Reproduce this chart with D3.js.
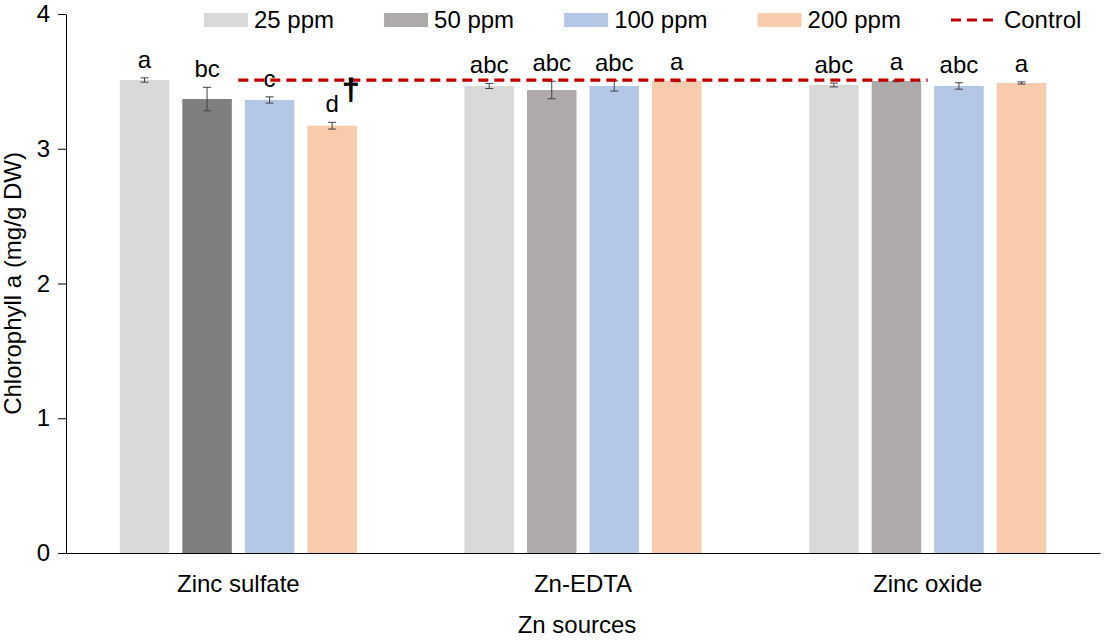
<!DOCTYPE html>
<html>
<head>
<meta charset="utf-8">
<script src="https://cdn.jsdelivr.net/npm/d3@7/dist/d3.min.js"></script>
<style>
  body { margin: 0; background: #fff; }
  text { font-family: Arial, "Liberation Sans", sans-serif; fill: #000; }
</style>
</head>
<body>
<svg id="chart"></svg>
<script>
const categories = ["Zinc sulfate", "Zn-EDTA", "Zinc oxide"];
const series = ["25 ppm", "50 ppm", "100 ppm", "200 ppm"];

const ppm25 = [3.51, 3.466, 3.473];
const ppm50 = [3.369, 3.436, 3.503];
const ppm100 = [3.362, 3.466, 3.466];
const ppm200 = [3.171, 3.503, 3.488];

const err25 = [0.016, 0.019, 0.014];
const err50 = [0.087, 0.065, 0.005];
const err100 = [0.023, 0.038, 0.024];
const err200 = [0.025, 0.005, 0.008];

const let25 = ["a", "abc", "abc"];
const let50 = ["bc", "abc", "a"];
const let100 = ["c", "abc", "abc"];
const let200 = ["d", "a", "a"];

const control = [3.51, 3.51, 3.51];
const yTicks = [0, 1, 2, 3, 4];

const seriesValues = [ppm25, ppm50, ppm100, ppm200];
const seriesErrors = [err25, err50, err100, err200];
const seriesLetters = [let25, let50, let100, let200];
const colors = ["#d9d9d9", "#aeaaaa", "#b4c7e7", "#f8cbad"];
const darkGrey = "#7f7f7f"; // zinc sulfate 50 ppm bar is drawn darker

const W = 1104, H = 640;
const margin = {top: 14, right: 4, bottom: 87, left: 66};
const width = W - margin.left - margin.right;
const height = H - margin.top - margin.bottom;

const svg = d3.select("#chart").attr("width", W).attr("height", H);
svg.append("rect").attr("width", W).attr("height", H).attr("fill", "#fff");

const g = svg.append("g").attr("transform", `translate(${margin.left},${margin.top})`);

const x0 = d3.scaleBand().domain(categories).range([0, width]).padding(0);
const x1 = d3.scaleBand().domain(series).range([0, x0.bandwidth()])
    .paddingInner(0.208).paddingOuter(0.86);
const y = d3.scaleLinear().domain([0, 4]).range([height, 0]);

const rows = [];
categories.forEach((c, ci) => {
    series.forEach((s, si) => {
        rows.push({
            cat: c, ser: s, si: si, ci: ci,
            v: seriesValues[si][ci],
            e: seriesErrors[si][ci],
            l: seriesLetters[si][ci]
        });
    });
});

// bars
g.selectAll(".bar")
    .data(rows)
    .enter().append("rect")
    .attr("class", "bar")
    .attr("x", d => x0(d.cat) + x1(d.ser))
    .attr("y", d => y(d.v))
    .attr("width", x1.bandwidth())
    .attr("height", d => height - y(d.v))
    .attr("fill", d => (d.ci === 0 && d.si === 1) ? darkGrey : colors[d.si]);

// error bars
const eb = g.selectAll(".err")
    .data(rows)
    .enter().append("g")
    .attr("class", "err")
    .attr("stroke", "#404040")
    .attr("stroke-width", 1);
const cx = d => x0(d.cat) + x1(d.ser) + x1.bandwidth() / 2;
eb.append("line")
    .attr("x1", cx).attr("x2", cx)
    .attr("y1", d => y(d.v + d.e)).attr("y2", d => y(d.v - d.e));
eb.append("line")
    .attr("x1", d => cx(d) - 4).attr("x2", d => cx(d) + 4)
    .attr("y1", d => y(d.v + d.e)).attr("y2", d => y(d.v + d.e));
eb.append("line")
    .attr("x1", d => cx(d) - 4).attr("x2", d => cx(d) + 4)
    .attr("y1", d => y(d.v - d.e)).attr("y2", d => y(d.v - d.e));

// significance letters
g.selectAll(".letter")
    .data(rows)
    .enter().append("text")
    .attr("class", "letter")
    .attr("x", cx)
    .attr("y", d => y(d.v + d.e) - 10)
    .attr("text-anchor", "middle")
    .style("font-size", "24px")
    .text(d => d.l);

// control line
const ctrlLine = d3.line()
    .x((d, i) => x0(categories[i]) + x0.bandwidth() / 2)
    .y(d => y(d));
g.append("path")
    .datum(control)
    .attr("d", ctrlLine)
    .attr("fill", "none")
    .attr("stroke", "#c00000")
    .attr("stroke-width", 3.2)
    .attr("stroke-dasharray", "10,6");

// dagger mark next to the zinc sulfate 200 ppm bar
g.append("text")
    .attr("x", x0(categories[0]) + x1("200 ppm") + x1.bandwidth() - 6)
    .attr("y", y(control[0]) + 20)
    .attr("text-anchor", "middle")
    .style("font-size", "30px")
    .style("stroke", "#000")
    .style("stroke-width", 1.2)
    .text("\u2020");

// axes
const yAxis = g.append("g")
    .call(d3.axisLeft(y).tickValues(yTicks).tickSize(8).tickSizeOuter(0).tickFormat(d3.format("d")));
yAxis.select(".domain").attr("stroke", "#000");
yAxis.selectAll(".tick line").attr("stroke", "#000");
yAxis.selectAll("text")
    .attr("x", -16)
    .style("font-size", "24px")
    .style("font-family", "Arial, 'Liberation Sans', sans-serif")
    .attr("fill", "#000");

const xAxis = g.append("g")
    .attr("transform", `translate(0,${height})`)
    .call(d3.axisBottom(x0).tickSize(0).tickSizeOuter(0));
xAxis.select(".domain").attr("stroke", "#000");
xAxis.selectAll("text")
    .attr("y", 22)
    .attr("dy", "0.71em")
    .style("font-size", "24px")
    .style("font-family", "Arial, 'Liberation Sans', sans-serif")
    .attr("fill", "#000");

// axis titles
svg.append("text")
    .attr("x", margin.left + width / 2 - 6)
    .attr("y", 633)
    .attr("text-anchor", "middle")
    .style("font-size", "24px")
    .text("Zn sources");

svg.append("text")
    .attr("transform", `translate(21,${margin.top + height / 2}) rotate(-90)`)
    .attr("text-anchor", "middle")
    .style("font-size", "24px")
    .text("Chlorophyll a (mg/g DW)");

// legend
const legend = svg.append("g").attr("transform", "translate(204,20)");
let lx = 0;
const legendItems = series.map((s, i) => ({name: s, color: colors[i], dash: false}))
    .concat([{name: "Control", color: "#c00000", dash: true}]);
legendItems.forEach(item => {
    const it = legend.append("g").attr("transform", `translate(${lx},0)`);
    if (item.dash) {
        it.append("line")
            .attr("x1", 0).attr("x2", 47).attr("y1", 0).attr("y2", 0)
            .attr("stroke", item.color).attr("stroke-width", 3.2)
            .attr("stroke-dasharray", "10,6");
    } else {
        it.append("rect")
            .attr("x", 0).attr("y", -7).attr("width", 44).attr("height", 14)
            .attr("fill", item.color);
    }
    const t = it.append("text")
        .attr("x", item.dash ? 53 : 50)
        .attr("y", 0)
        .attr("dy", "0.35em")
        .style("font-size", "24px")
        .text(item.name);
    lx += (item.dash ? 53 : 50) + t.node().getComputedTextLength() + 50;
});
</script>
</body>
</html>
